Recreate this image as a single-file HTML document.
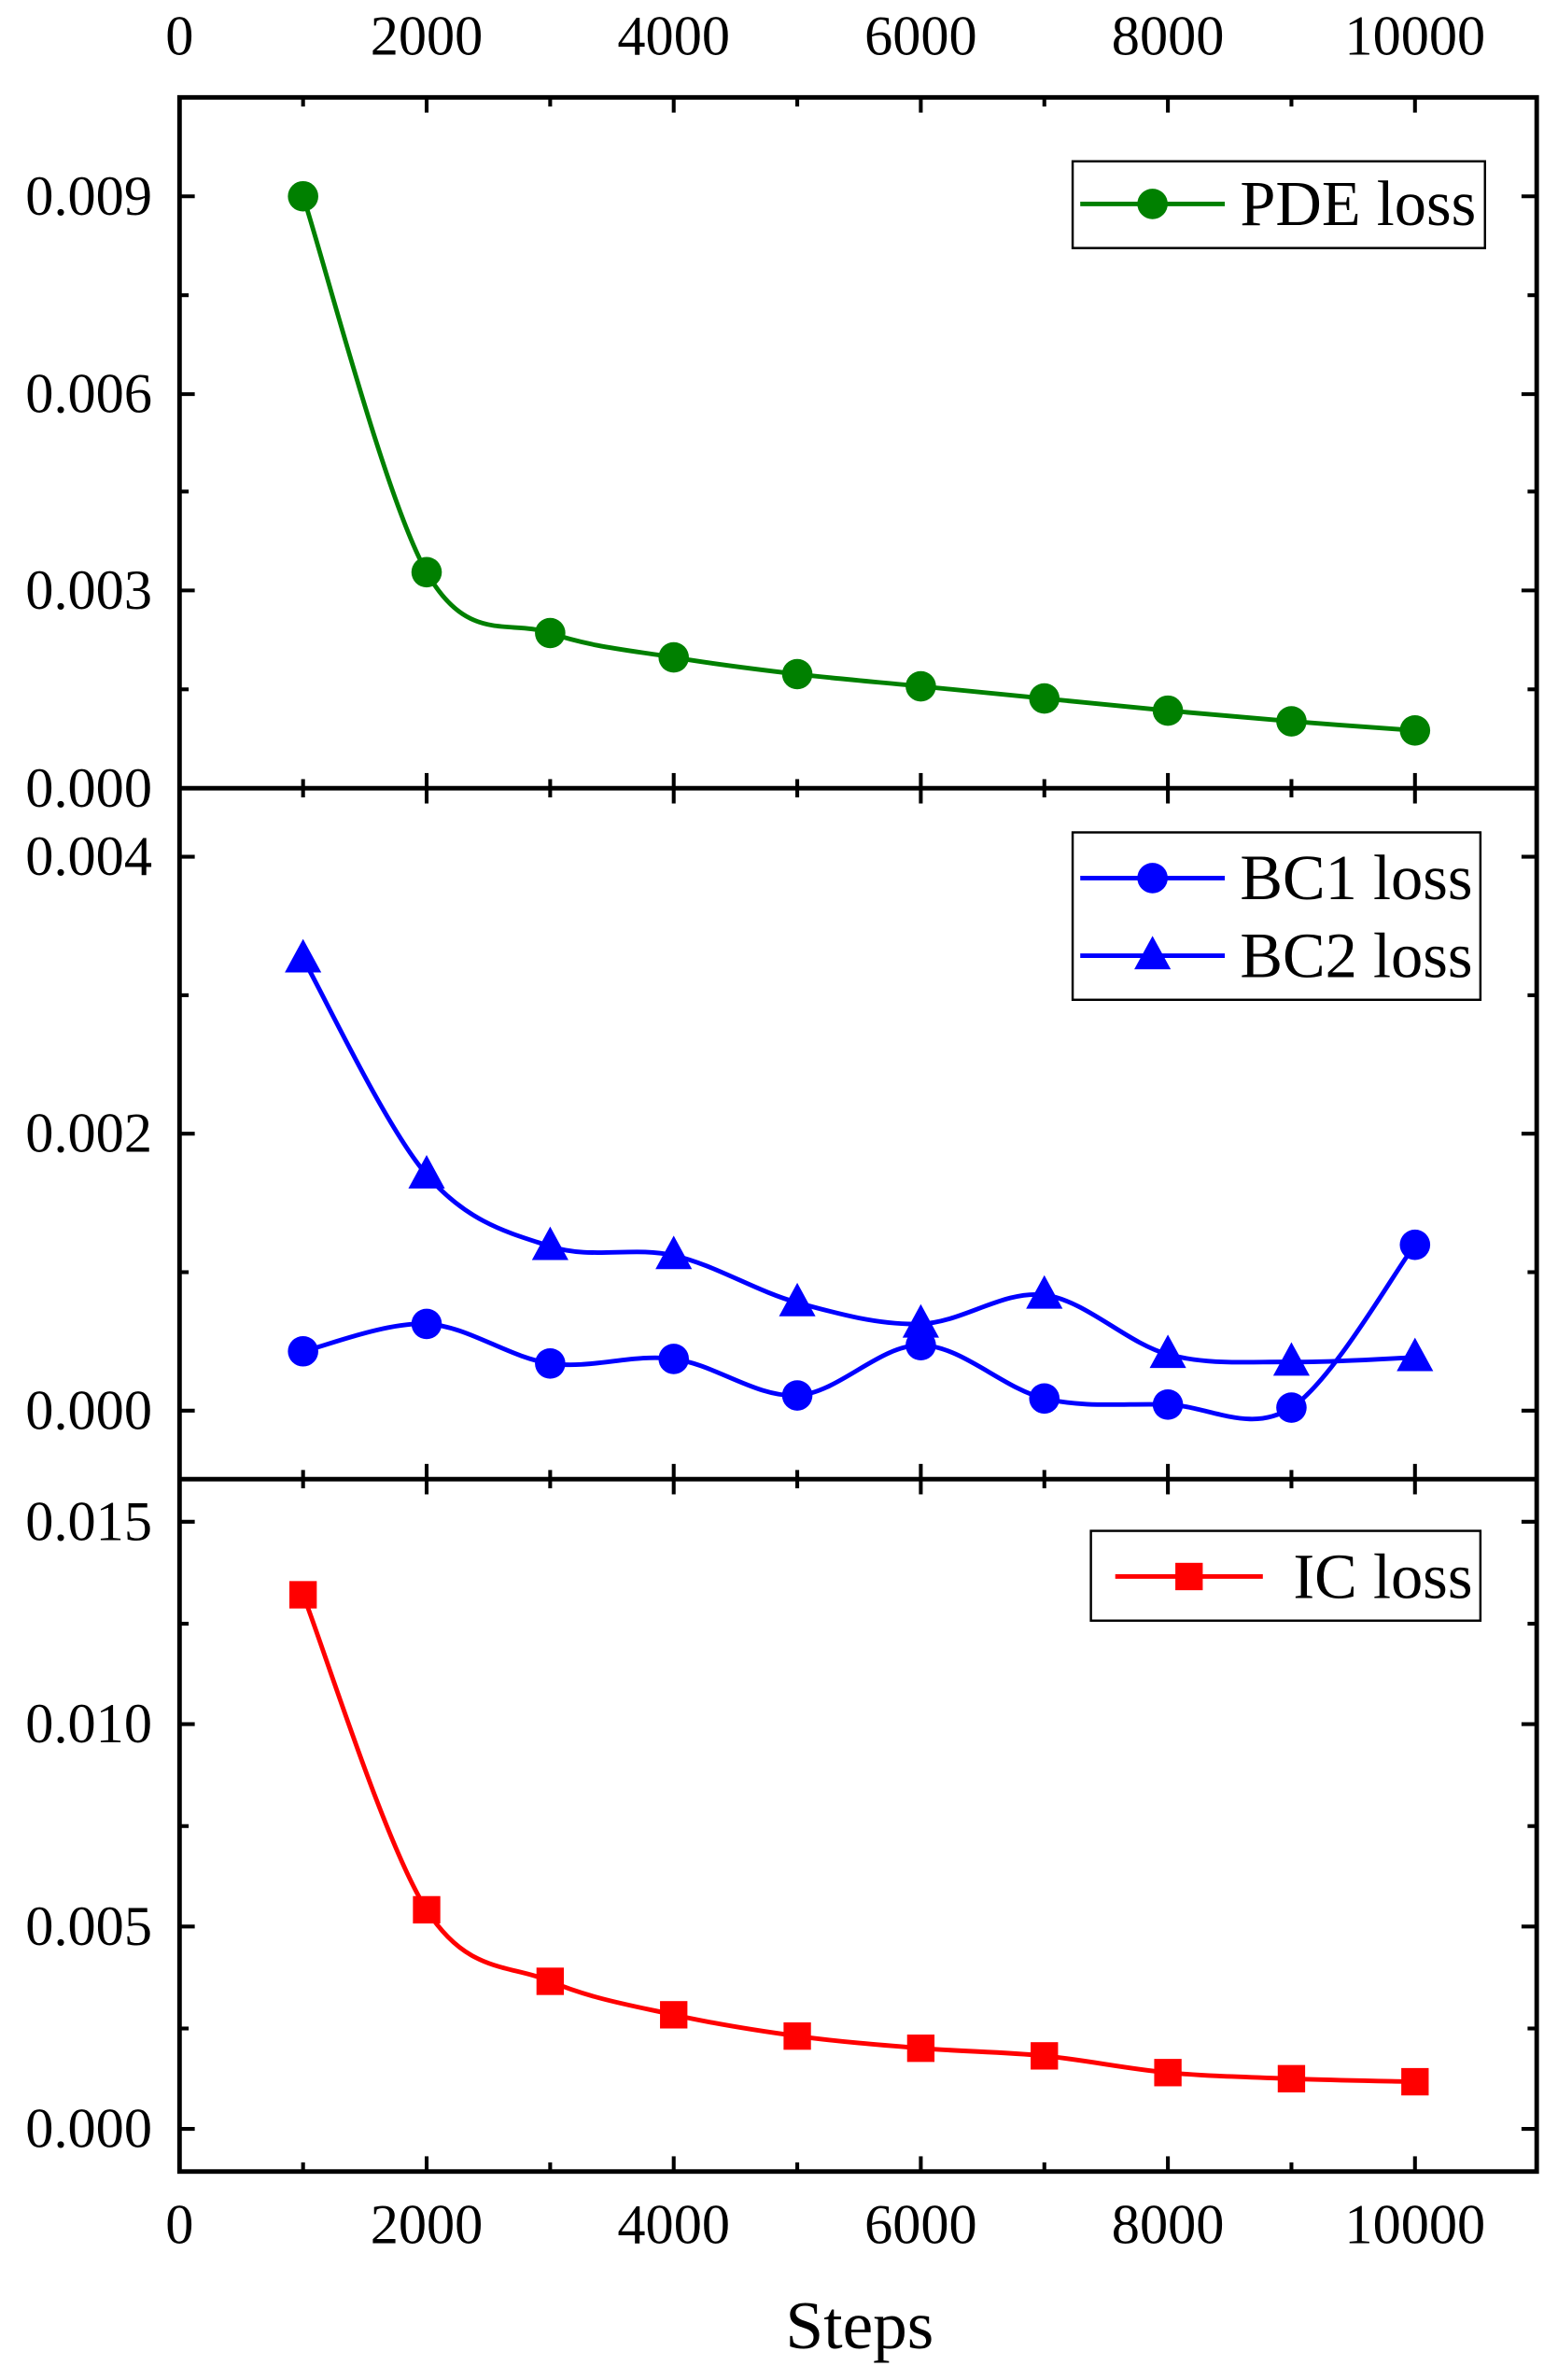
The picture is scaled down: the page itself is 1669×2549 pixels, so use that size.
<!DOCTYPE html>
<html><head><meta charset="utf-8"><style>
html,body{margin:0;padding:0;background:#fff}
svg{display:block}
text{font-family:"Liberation Serif",serif;fill:#000}
</style></head><body>
<svg id="s" width="1669" height="2549" viewBox="0 0 1024 1564" preserveAspectRatio="none" xmlns="http://www.w3.org/2000/svg">
<g id="g"></g>
<text x="565" y="1543" font-size="45" text-anchor="middle">Steps</text>
</svg>
<script>
var NS="http://www.w3.org/2000/svg",g=document.getElementById('g');
function el(t,a,txt){var e=document.createElementNS(NS,t);for(var k in a)e.setAttribute(k,a[k]);if(txt!=null)e.textContent=txt;g.appendChild(e);return e;}
var L=118,R=1010,T=64,B1=518,B2=972,B3=1427;
function X(v){return 118+v*0.0812;}
var xs=[];for(var i=1;i<=10;i++)xs.push(X(i*1000));
el('rect',{x:L,y:T,width:R-L,height:B3-T,fill:'none',stroke:'#000','stroke-width':3});
el('line',{x1:L,y1:B1,x2:R,y2:B1,stroke:'#000','stroke-width':3});
el('line',{x1:L,y1:B2,x2:R,y2:B2,stroke:'#000','stroke-width':3});
[T,B1,B2,B3].forEach(function(y,idx){
 for(var i=1;i<=10;i++){var x=X(i*1000);var len=(i%2==0)?10:6;
  if(idx>0) el('line',{x1:x,y1:y,x2:x,y2:y-len,stroke:'#000','stroke-width':2.5});
  if(idx<3) el('line',{x1:x,y1:y,x2:x,y2:y+len,stroke:'#000','stroke-width':2.5});}
});
for(var i=0;i<=10;i+=2){var x=X(i*1000);
 el('text',{x:x,y:36,'font-size':37,'text-anchor':'middle'},String(i*1000));
 el('text',{x:x,y:1474,'font-size':37,'text-anchor':'middle'},String(i*1000));}
function yt(maj,minr,labels){
 maj.forEach(function(y,k){el('line',{x1:L,y1:y,x2:L+10,y2:y,stroke:'#000','stroke-width':2.5});el('line',{x1:R,y1:y,x2:R-10,y2:y,stroke:'#000','stroke-width':2.5});
  el('text',{x:100,y:y+12,'font-size':37,'text-anchor':'end'},labels[k]);});
 minr.forEach(function(y){el('line',{x1:L,y1:y,x2:L+6,y2:y,stroke:'#000','stroke-width':2.5});el('line',{x1:R,y1:y,x2:R-6,y2:y,stroke:'#000','stroke-width':2.5});});
}
yt([518,388,259,129],[453,323,194,64],['0.000','0.003','0.006','0.009']);
yt([927,745,563],[836,654],['0.000','0.002','0.004']);
yt([1399,1266,1133,1000],[1333,1200,1067],['0.000','0.005','0.010','0.015']);
function path(ys){var p=xs.map(function(x,i){return [x,ys[i]];});var d='M'+p[0][0]+','+p[0][1];
 for(var i=0;i<p.length-1;i++){var p0=p[i-1]||p[i],p1=p[i],p2=p[i+1],p3=p[i+2]||p[i+1];
  d+=' C'+(p1[0]+(p2[0]-p0[0])/6)+','+(p1[1]+(p2[1]-p0[1])/6)+' '+(p2[0]-(p3[0]-p1[0])/6)+','+(p2[1]-(p3[1]-p1[1])/6)+' '+p2[0]+','+p2[1];}
 return d;}
function mark(type,x,y,c){
 if(type=='c')el('circle',{cx:x,cy:y,r:10,fill:c});
 else if(type=='s')el('rect',{x:x-9,y:y-9,width:18,height:18,fill:c});
 else el('polygon',{points:(x)+','+(y-13)+' '+(x-12)+','+(y+9)+' '+(x+12)+','+(y+9),fill:c});}
function series(ys,c,type){el('path',{d:path(ys),fill:'none',stroke:c,'stroke-width':3});xs.forEach(function(x,i){mark(type,x,ys[i],c);});}
series([129,376,416,432,443,451,459,467,474,480],'#008000','c');
series([888,870,896,893,917,884,919,923,925,818],'#0000ff','c');
series([630,772,819,825,856,870,851,890,895,892],'#0000ff','t');
series([1048,1255,1302,1324,1338,1346,1351,1362,1366,1368],'#ff0000','s');
function leg(x,y,w,h){el('rect',{x:x,y:y,width:w,height:h,fill:'#fff',stroke:'#000','stroke-width':1.5});}
function item(x1,x2,y,c,type,t,tx){el('line',{x1:x1,y1:y,x2:x2,y2:y,stroke:c,'stroke-width':3});mark(type,(x1+x2)/2,y,c);el('text',{x:tx,y:y+14,'font-size':42},t);}
leg(705,106,271,57);item(710,805,134,'#008000','c','PDE loss',815);
leg(705,547,268,110);item(710,805,577,'#0000ff','c','BC1 loss',815);item(710,805,628,'#0000ff','t','BC2 loss',815);
leg(717,1006,256,59);item(733,830,1036,'#ff0000','s','IC loss',850);
</script>
</body></html>
